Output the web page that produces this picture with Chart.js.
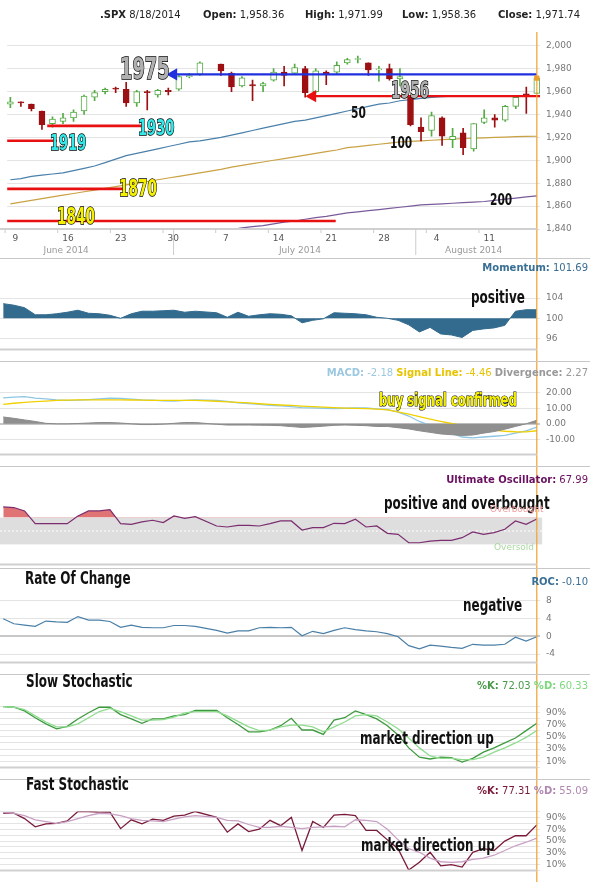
<!DOCTYPE html>
<html><head><meta charset="utf-8">
<script src="https://cdn.jsdelivr.net/npm/chart.js@4.4.1/dist/chart.umd.min.js"></script>
<style>
body{margin:0;background:#fff;}
#wrap{position:relative;width:590px;height:882px;overflow:hidden;font-family:"DejaVu Sans",Verdana,sans-serif;}
canvas{position:absolute;left:0;}
.t{position:absolute;white-space:nowrap;line-height:1;}
.hd{font-size:10px;color:#222;}
.hd b{font-weight:bold;}
.big{font-family:"DejaVu Sans Condensed","DejaVu Sans",sans-serif;font-weight:bold;-webkit-text-stroke:1.6px #000;paint-order:stroke fill;transform:scaleX(0.66);transform-origin:0 0;}
.note{font-family:"DejaVu Sans Condensed","DejaVu Sans",sans-serif;font-weight:bold;color:#111;font-size:18px;transform:scaleX(0.74);transform-origin:0 0;}
.sep{position:absolute;left:0;width:590px;height:1px;background:#c8c8c8;}
.rh{font-size:10px;right:2px;}
</style></head><body>
<div id="wrap">
<canvas id="c1" width="590" height="258" style="top:0px"></canvas>
<canvas id="c2" width="590" height="103" style="top:258px"></canvas>
<canvas id="c3" width="590" height="105" style="top:361px"></canvas>
<canvas id="c4" width="590" height="102" style="top:466px"></canvas>
<canvas id="c5" width="590" height="106" style="top:568px"></canvas>
<canvas id="c6" width="590" height="105" style="top:674px"></canvas>
<canvas id="c7" width="590" height="103" style="top:779px"></canvas>

<div class="sep" style="top:258px"></div><div class="sep" style="top:361px"></div>
<div class="sep" style="top:466px"></div><div class="sep" style="top:568px"></div>
<div class="sep" style="top:674px"></div><div class="sep" style="top:779px"></div>

<div class="t hd" style="left:100px;top:10px"><b>.SPX</b> 8/18/2014</div>
<div class="t hd" style="left:203px;top:10px"><b>Open:</b> 1,958.36</div>
<div class="t hd" style="left:305px;top:10px"><b>High:</b> 1,971.99</div>
<div class="t hd" style="left:402px;top:10px"><b>Low:</b> 1,958.36</div>
<div class="t hd" style="left:498px;top:10px"><b>Close:</b> 1,971.74</div>

<div class="t big" style="left:120px;top:54px;font-size:30px;color:#b0b0b0">1975</div>
<div class="t big" style="left:391px;top:79px;font-size:23px;color:#b0b0b0">1956</div>
<div class="t big" style="left:138px;top:117px;font-size:22px;color:#33e8e8">1930</div>
<div class="t big" style="left:50px;top:132px;font-size:22px;color:#33e8e8">1919</div>
<div class="t big" style="left:119px;top:177px;font-size:23px;color:#f5f000">1870</div>
<div class="t big" style="left:57px;top:205px;font-size:23px;color:#f5f000">1840</div>
<div class="t note" style="left:351px;top:105px;font-size:16px">50</div>
<div class="t note" style="left:390px;top:135px;font-size:16px">100</div>
<div class="t note" style="left:490px;top:192px;font-size:16px">200</div>

<div class="t hd rh" style="top:263px;color:#3a6f95"><b>Momentum:</b> 101.69</div>
<div class="t note" style="left:471px;top:288px">positive</div>
<div class="t hd rh" style="top:368px"><span style="color:#9cc8e0"><b>MACD:</b> -2.18</span> <span style="color:#e8c400"><b>Signal Line:</b> -4.46</span> <span style="color:#999"><b>Divergence:</b> 2.27</span></div>
<div class="t big" style="left:379px;top:391px;font-size:18px;color:#f5f000;-webkit-text-stroke:1.2px #000;transform:scaleX(0.72)">buy signal confirmed</div>
<div class="t hd rh" style="top:475px;color:#6a1060"><b>Ultimate Oscillator:</b> 67.99</div>
<div class="t note" style="left:384px;top:494px">positive and overbought</div>
<div class="t" style="left:490px;top:505px;font-size:9px;color:#f0a0a0">Overbought</div>
<div class="t" style="left:494px;top:543px;font-size:9px;color:#a8d8a0">Oversold</div>
<div class="t note" style="left:25px;top:569px">Rate Of Change</div>
<div class="t hd rh" style="top:577px;color:#3a6f95"><b>ROC:</b> -0.10</div>
<div class="t note" style="left:463px;top:596px">negative</div>
<div class="t note" style="left:26px;top:672px">Slow Stochastic</div>
<div class="t hd rh" style="top:681px"><span style="color:#4a9a4a"><b>%K:</b> 72.03</span> <span style="color:#7fd87f"><b>%D:</b> 60.33</span></div>
<div class="t note" style="left:360px;top:729px">market direction up</div>
<div class="t note" style="left:26px;top:775px">Fast Stochastic</div>
<div class="t hd rh" style="top:786px"><span style="color:#7a1a3a"><b>%K:</b> 77.31</span> <span style="color:#b088b0"><b>%D:</b> 55.09</span></div>
<div class="t note" style="left:361px;top:836px">market direction up</div>
</div>
<script>
// ---- data (index 19 = July 4 holiday, empty slot) ----
const dayLabels = ['9','16','23','30','7','14','21','28','4','11'];
const dayLabelIdx = [0,5,10,15,20,25,30,35,40,45];
const monthLabels = ['June 2014','July 2014','August 2014'];
const monthLabelIdx = [5.3,27.5,44];
const monthSepIdx = [15.5,38.5];
const openP  = [1949,1951,1949,1943,1932,1934,1937,1943,1955,1960,1963,1962,1950,1960,1957,1961,1962,1973,1975,null,1984,1976,1965,1966,1965,1970,1977,1976,1980,1960,1977,1977,1985,1988,1985,1979,1980,1971,1955,1929,1926,1937,1918,1924,1910,1933,1937,1935,1947,1958,1958.36];
const highP  = [1955,1951,1949,1943,1938,1941,1944,1957,1961,1963,1964,1968,1961,1961,1962,1963,1974,1976,1986,null,1984,1977,1973,1970,1968,1980,1982,1984,1982,1980,1978,1986,1989,1991,1985,1982,1984,1980,1956,1937,1942,1938,1928,1928,1932,1944,1940,1948,1956,1964,1971.99];
const lowP   = [1946,1947,1943,1927,1929,1932,1934,1940,1952,1958,1959,1947,1947,1944,1955,1957,1961,1972,1974,null,1974,1960,1964,1952,1960,1969,1965,1975,1955,1959,1966,1975,1984,1985,1974,1969,1970,1965,1930,1917,1921,1913,1911,1905,1908,1932,1929,1934,1945,1941,1958.36];
const closeP = [1951,1950,1945,1931,1936,1937,1942,1956,1959,1962,1962,1950,1960,1959,1961,1960,1973,1974,1985,null,1978,1964,1972,1965,1967,1977,1974,1981,1959,1978,1975,1983,1988,1988.5,1979,1979.5,1971,1973,1931,1925,1939,1921,1921,1911,1932,1937,1935,1947,1955,1956,1971.74];
const ma50  = [1883,1884,1886,1887,1888,1889,1891,1893,1895,1898,1901,1904,1906,1908,1910,1912,1914,1916,1917,null,1920,1922,1924,1926,1928,1930,1932,1934,1935,1937,1939,1941,1943,1945,1947,1949,1950,1952,1953,1954,1955,1955.5,1956,1956,1956,1956,1956,1956,1956,1956,1956];
const ma100 = [1862,1863.5,1865,1866.5,1868,1869.5,1871,1872.5,1874,1875.5,1877,1878.5,1880,1881.5,1883,1884.5,1886,1887.5,1889,null,1892,1894,1895.5,1897,1898.5,1900,1901.5,1903,1904.5,1906,1907.5,1909,1911,1912,1913,1914,1915,1916,1916.5,1917,1917.5,1918,1918.5,1919,1919.3,1919.6,1920,1920.3,1920.6,1920.8,1921];
const ma200 = [null,null,null,null,null,null,null,null,null,null,null,null,null,null,null,null,null,null,null,null,null,1839.5,1841,1842,1843,1844.5,1846,1847,1848.5,1850,1851,1852.5,1854,1855,1856,1857,1858,1859,1860,1861,1861.5,1862,1862.5,1863,1863.5,1864,1865,1866,1867,1868,1869];
const levelValues = [1975,1956,1930,1917,1875,1847];
const levelFrom   = [15.5,28.7,3.5,-0.5,-0.5,-0.5];
const levelTo     = [50,50.4,12.6,4.4,10.9,30.9];
const levelArrow  = [true,true,false,false,false,false];
const levelColors = ['#2030e0','#e81010','#e81010','#e81010','#e81010','#e81010'];
const momentum = [102.9,102.6,102.1,100.7,100.7,100.9,101.2,101.6,101.0,100.9,100.6,100.0,100.9,101.4,101.4,101.5,101.6,101.2,101.4,null,101.1,100.2,101.2,100.4,100.7,100.9,100.8,100.5,99.1,99.6,99.9,101.1,101.0,100.9,100.7,100.2,100.0,99.6,98.7,97.3,98.2,96.9,96.7,96.2,97.6,97.9,98.1,98.6,101.4,101.7,101.69];
const macd = [16.7,17.2,17.5,16.5,16,15.4,15,15.2,15.6,16,16.5,16.3,15.8,15.4,15.2,14.8,14.6,15,15.4,null,15,14.4,13.5,13,12.5,11.9,11.5,11,10.4,10.2,10,9.8,10,10.2,10.2,9.6,9.2,7.5,5,1.5,-1,-3.5,-6,-8.5,-9,-8.5,-8,-7.5,-6,-4.5,-2.18];
const signal = [12.5,13.2,13.8,14.3,14.6,15,15.2,15.4,15.4,15.4,15.4,15.4,15.3,15.2,15.1,15,15,15,15,null,14.5,14.1,13.8,13.4,12.9,12.5,12.1,11.8,11.4,11,10.7,10.4,10.1,9.9,9.7,9.4,9,7.7,6.2,4.6,3,1.5,0.2,-1,-2.2,-3.3,-4,-4.8,-5.1,-5.2,-4.46];
const divergence = [4.4,3.5,2.5,1.5,0.3,0,0,0.2,0.5,0.8,0.8,0.5,0,-0.5,-0.5,-0.2,0.3,0.8,0.8,null,-0.3,-0.8,-0.8,-0.8,-0.9,-1,-1.2,-1.8,-2.3,-2,-1.5,-1,-0.8,-1,-1.2,-1.7,-1.7,-2.5,-3.3,-4.5,-5.5,-6.5,-7,-7.5,-7.2,-6,-5,-3.5,-1.7,0,2.27];
const ultOsc = [86,85,80,61,61,61,61,72.5,80,80,82,61,60,63.5,66,62.5,72.5,69,71.5,null,57.5,56,58.5,58.5,57.5,61,65,65,51.5,55,55,61.5,61,67.5,56,57.5,46.5,45,32.5,32.5,35,36,36,40,48.5,45,47.5,52.5,65,60,67.99];
const roc = [3.9,2.8,2.5,2.2,3.4,3.2,3.1,4.4,3.6,3.6,3.3,2.0,2.5,2.0,1.9,1.9,2.4,2.4,2.2,null,1.3,0.7,1.2,1.2,1.9,2.0,1.9,2.0,0.1,1.1,0.6,1.3,1.9,1.5,1.2,1.0,0.6,-0.1,-2.1,-2.8,-2.0,-2.2,-2.5,-2.7,-1.8,-2.0,-2.0,-1.8,-0.2,-1.1,-0.10];
const slowK = [99,98,92,81,71,63,67,79,89,98,98,86,79,72,79,79,84,86,93,null,93,81,70,58,58,61,68,80,61,61,54,77,81,92,86,79,68,53,32,17,14,17,16,9,15,25,32,40,48,60,72.03];
const slowD = [99,98,94,84,74,66,66,71,81,91,96,91,84,77,77,78,82,89,91,null,91,84,75,66,60,61,66,69,69,66,58,66,74,84,86,84,74,63,48,32,19,15,15,13,13,17,25,32,40,49,60.33];
const fastK = [97,97,88,74,79,80,84,100,100,99,99,71,86,79,87,85,92,94,100,null,90,65,79,66,70,85,76,90,34,83,73,94,95,93,68,68,52,37,1,14,31,8,10,6,31,37,34,50,59,59,77.31];
const fastD = [98,97,93,86,83,80,83,88,93,97,96,93,88,85,84,83,87,91,93,null,90,85,84,78,73,73,75,73,71,73,74,75,74,86,85,83,70,52,37,31,21,15,14,15,19,21,26,34,42,48,55.09];

// ---- helpers ----
const N = closeP.length;
const pts = arr => arr.map((v,i)=>({x:i,y:v}));
const ORANGE = '#f0a030';
const tickFont = {family:'DejaVu Sans', size:9};
function xScale(){ return {type:'linear', min:-0.3, max:N-0.7, display:false, offset:false, grid:{offset:false}}; }
function yScale(o){
  return Object.assign({position:'right', afterFit:s=>{s.width=50;},
    border:{display:false},
    grid:{color:'#e4e4e4', lineWidth:1, drawTicks:false, borderDash:[2,2]},
  }, o);
}
const vline = {id:'vline', afterDatasetsDraw(c, a, opts){
  const x = c.scales.x.getPixelForValue(N-1), g=c.ctx;
  g.save(); g.strokeStyle=ORANGE; g.lineWidth=1.2; g.beginPath();
  g.moveTo(x, opts.fromArea ? c.chartArea.top : 0); g.lineTo(x, c.height); g.stroke();
  g.strokeStyle='#d0d0d0'; g.lineWidth=2; g.beginPath();
  g.moveTo(0,c.chartArea.bottom); g.lineTo(x,c.chartArea.bottom); g.stroke(); g.restore();
}};
function base(padTop, padBottom, datasets, y){
  return {type:'line', data:{datasets},
    options:{responsive:false, animation:false, events:[],
      layout:{padding:{top:padTop,bottom:padBottom,left:0,right:0}},
      plugins:{legend:{display:false}, tooltip:{enabled:false}, vline:{}},
      scales:{x:xScale(), y:yScale(y)}},
    plugins:[vline]};
}
const line = (arr,color,w,o)=>Object.assign({type:'line', data:pts(arr), borderColor:color, borderWidth:w, pointRadius:0, spanGaps:true, tension:0}, o||{});
const yt = (o)=>Object.assign({includeBounds:false,autoSkip:false,font:tickFont,color:'#777',padding:6}, o);

// ---- top price panel ----
const isUp = i => closeP[i] >= openP[i];
const ds1 = [];
ds1.push({type:'bar', data:openP.map((o,i)=>({x:i,y:o==null?null:[lowP[i],highP[i]]})), barThickness:1, grouped:false, order:3,
  backgroundColor:c=>isUp(c.dataIndex)?'#55aa44':'#9c0f12'});
ds1.push({type:'bar', data:openP.map((o,i)=>({x:i,y:o==null?null:[o,closeP[i]]})), barThickness:6, grouped:false, order:2, minBarLength:1,
  backgroundColor:c=>isUp(c.dataIndex)?'#ffffff':'#9c0f12', borderColor:c=>isUp(c.dataIndex)?'#55aa44':'#9c0f12', borderWidth:1, borderSkipped:false});
ds1.push(line(ma50,'#4a80aa',1.2,{order:4}));
ds1.push(line(ma100,'#c9a244',1.2,{order:4}));
ds1.push(line(ma200,'#7a5a9a',1.2,{order:4}));
levelValues.forEach((v,k)=>{
  ds1.push({type:'line', order:1, data:[{x:levelFrom[k],y:v},{x:levelTo[k],y:v}], borderColor:levelColors[k], backgroundColor:levelColors[k], borderWidth:levelArrow[k]?2.2:2.6,
    pointStyle:'triangle', rotation:-90, pointRadius:c=>(levelArrow[k]&&c.dataIndex===0)?5:0});
});
ds1.push({type:'line', order:0, data:[{x:N-1,y:closeP[N-1]}], pointStyle:'rect', pointRadius:3, backgroundColor:ORANGE, borderColor:ORANGE, showLine:false});
const axisLabels = {id:'axl', afterDraw(c){
  const g=c.ctx, xs=c.scales.x, b=c.chartArea.bottom;
  g.save(); g.font='9px DejaVu Sans'; g.fillStyle='#555'; g.textAlign='center';
  dayLabels.forEach((t,k)=>g.fillText(t, xs.getPixelForValue(dayLabelIdx[k])+5, b+12));
  g.fillStyle='#999';
  monthLabels.forEach((t,k)=>g.fillText(t, xs.getPixelForValue(monthLabelIdx[k]), b+24));
  g.strokeStyle='#ccc'; g.lineWidth=1;
  monthSepIdx.forEach(v=>{const x=xs.getPixelForValue(v); g.beginPath(); g.moveTo(x,b); g.lineTo(x,b+26); g.stroke();});
  dayLabelIdx.forEach(v=>{const x=xs.getPixelForValue(v-0.5); g.beginPath(); g.moveTo(x,b); g.lineTo(x,b+4); g.stroke();});
  g.restore();
}};
const cfg1 = base(32,29,ds1,{min:1840,max:2012,ticks:yt({stepSize:20,callback:v=>v.toLocaleString('en-US')})});
cfg1.options.plugins.vline={fromArea:true};
cfg1.plugins.push(axisLabels);
new Chart(document.getElementById('c1'), cfg1);

// ---- momentum ----
new Chart(document.getElementById('c2'), base(29,6,[line(momentum,'#336b8f',1,{fill:{value:100},backgroundColor:'#336b8f'})],
  {min:93.8,max:106.2,ticks:yt({stepSize:4})}));

// ---- MACD ----
const zeroGrid = {color:c=>c.tick&&c.tick.value===0?'#c8c8c8':'#e4e4e4',lineWidth:c=>c.tick&&c.tick.value===0?2:1,drawTicks:false,borderDash:[2,2]};
new Chart(document.getElementById('c3'), base(25,8,[
  line(divergence,'#8a8a8a',1,{fill:{value:0},backgroundColor:'#8f8f8f'}),
  line(signal,'#f0d000',1.3),
  line(macd,'#8ec6e2',1.3)],
  {min:-19.8,max:24.3,ticks:yt({stepSize:10,callback:v=>v.toFixed(2)}),grid:zeroGrid}));

// ---- Ultimate oscillator ----
const obLevel = 70, osLevel = 30;
const band = {id:'band', beforeDatasetsDraw(c){
  const y=c.scales.y, g=c.ctx, a=c.chartArea, r=c.scales.x.getPixelForValue(N-0.5);
  g.save(); g.fillStyle='#dedede'; g.fillRect(a.left, y.getPixelForValue(obLevel), r-a.left, y.getPixelForValue(osLevel)-y.getPixelForValue(obLevel));
  g.strokeStyle='#fff'; g.setLineDash([2,2]); g.beginPath(); const m=y.getPixelForValue(50); g.moveTo(a.left,m); g.lineTo(r,m); g.stroke(); g.restore();
}};
const cfg4 = base(31.5,3.5,[line(ultOsc,'#7b2d6f',1.2,{fill:{value:obLevel, above:'rgba(218,90,90,0.85)', below:'rgba(0,0,0,0)'}})],
  {min:0,max:100,ticks:{display:false},grid:{display:false}});
cfg4.plugins.push(band);
new Chart(document.getElementById('c4'), cfg4);

// ---- ROC ----
new Chart(document.getElementById('c5'), base(24,8,[line(roc,'#4a7fa8',1.2)],
  {min:-5.9,max:9.9,ticks:yt({stepSize:4}),grid:zeroGrid}));

// ---- stochastics ----
const stochTicks = ()=>yt({stepSize:10,callback:v=>(v/10)%2===1?v+'%':''});
new Chart(document.getElementById('c6'), base(32,8,[line(slowD,'#8fdc8f',1.3), line(slowK,'#3f9a3f',1.3)], {min:0,max:100,ticks:stochTicks()}));
new Chart(document.getElementById('c7'), base(32.5,5.5,[line(fastD,'#c8a0c4',1.3), line(fastK,'#7a1a3a',1.3)], {min:0,max:100,ticks:stochTicks()}));
</script>
</body></html>
